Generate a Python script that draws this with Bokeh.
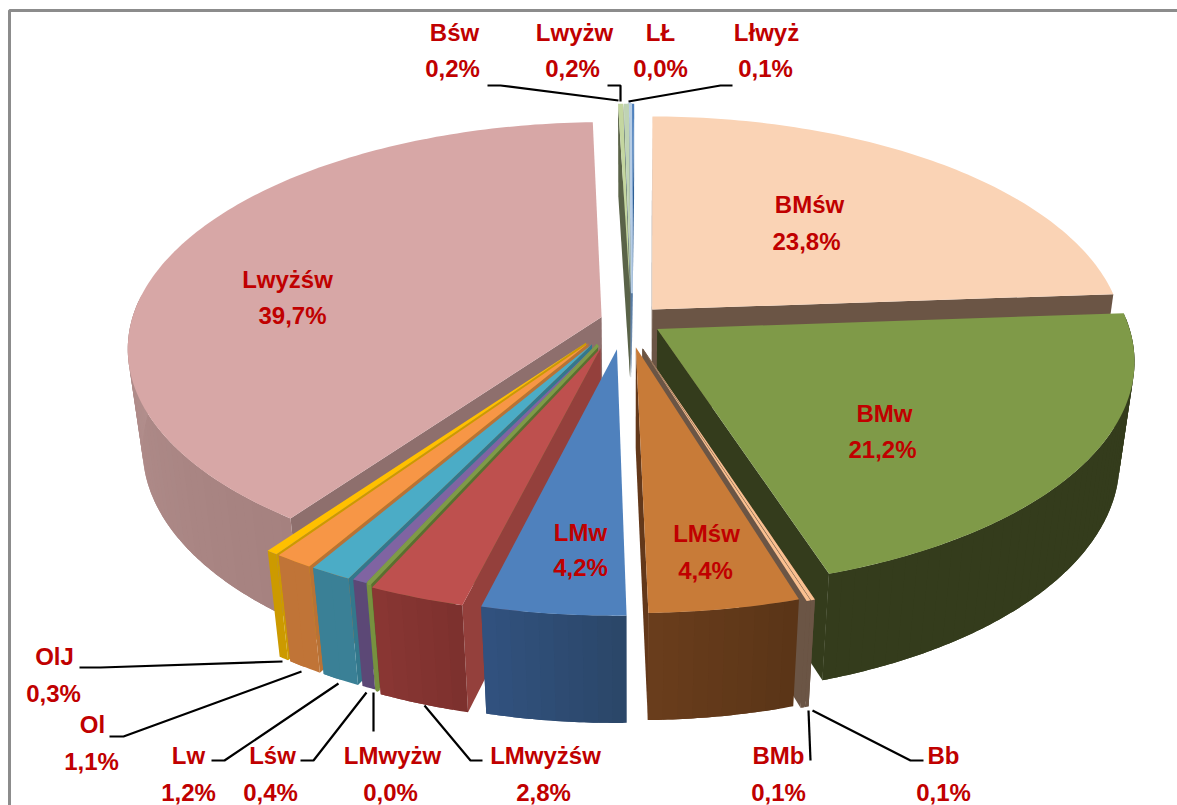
import math
from bokeh.plotting import figure
from bokeh.models import Range1d, ColumnDataSource
from bokeh.core.properties import value
from bokeh.embed import file_html
from bokeh.resources import INLINE

# ---- data (clockwise from the top of the pie) ----
names = ["Bśw", "Lwyżw", "LŁ", "Lłwyż", "BMśw", "BMw", "Bb", "BMb", "LMśw", "LMw",
         "LMwyżśw", "LMwyżw", "Lśw", "Lw", "Ol", "OlJ", "Lwyżśw"]
shares = [0.2, 0.2, 0.04, 0.14, 23.8, 21.15, 0.12, 0.12, 4.44, 4.24, 2.84, 0.04, 0.44, 1.24, 1.14, 0.34, 39.66]
labels = ["0,2%", "0,2%", "0,0%", "0,1%", "23,8%", "21,2%", "0,1%", "0,1%", "4,4%", "4,2%",
          "2,8%", "0,0%", "0,4%", "1,2%", "1,1%", "0,3%", "39,7%"]

# ---- styles ----
top_col = ["#C4D6A0", "#BFD3B4", "#B7CDE5", "#4F81BD", "#FAD3B5", "#7F9A48", "#FAC090", "#FAC090",
           "#C87B38", "#4F81BD", "#BE504E", "#7F9A48", "#8064A2", "#4BACC6", "#F79646", "#FFC000", "#D7A7A6"]
face_col = ["#5A6348", "#5F7488", "#3F5F86", "#2F5F94", "#6B5545", "#343C1C", "#6B5545", "#6B5545",
            "#63381A", "#2E4A70", "#94403C", "#5A7030", "#5C4876", "#33788C", "#B87236", "#CC9A00", "#8E6F6D"]
wall_a = ["#5A6348", "#5F7488", "#3F5F86", "#2F5F94", "#6B5545", "#343C1C", "#6B5545", "#6B5545",
          "#5A3517", "#2B4668", "#7C302E", "#77913F", "#5C4876", "#3A8096", "#C07437", "#CC9A00", "#A5817F"]
wall_b = ["#5A6348", "#5F7488", "#3F5F86", "#2F5F94", "#6B5545", "#343C1C", "#6B5545", "#6B5545",
          "#6A3D1C", "#31527F", "#8A3733", "#77913F", "#5C4876", "#3A8096", "#C07437", "#CC9A00", "#C5A3A1"]
explode = [0.125, 0.125, 0.125, 0.125, 0.068, 0.068, 0.13, 0.13, 0.12, 0.128, 0.13, 0.12, 0.12, 0.12, 0.12, 0.12, 0.055]
nudge = [0.002, 0.002, 0.002, 0.002, 0, 0, -0.014, -0.014, -0.008, -0.014, -0.02, -0.019, -0.021, -0.024, -0.024, -0.024, -0.009]

# ---- projection of the 3D disc onto the page ----
CX, CY, RX, RY, HT, PERSP, TAPER = 630.0, 320.0, 470.0, 222.0, 103.0, 0.135, 0.03
START = -1.7


def project(u, v, z):
    w = 1.0 / (1.0 - PERSP * v + TAPER * z)
    return CX + RX * u * w, CY + RY * v * w + HT * z * w


def mix(a, b, t):
    ca = [int(a[i:i + 2], 16) for i in (1, 3, 5)]
    cb = [int(b[i:i + 2], 16) for i in (1, 3, 5)]
    return "#%02x%02x%02x" % tuple(round(x + (y - x) * t) for x, y in zip(ca, cb))


def area(pts):
    return sum(pts[j][0] * pts[(j + 1) % len(pts)][1] - pts[(j + 1) % len(pts)][0] * pts[j][1]
               for j in range(len(pts)))


total = sum(shares)
slices = []
acc = START
for i, s in enumerate(shares):
    sweep = s / total * 360.0
    slices.append((i, acc, acc + sweep))
    acc += sweep
slices.sort(key=lambda q: -math.cos(math.radians((q[1] + q[2]) / 2)))

xs, ys, cols, widths = [], [], [], []


def add(pts, col, lw=0.0):
    xs.append([p[0] for p in pts])
    ys.append([p[1] for p in pts])
    cols.append(col)
    widths.append(lw)


for i, a0, a1 in slices:
    mid = math.radians((a0 + a1) / 2)
    ou, ov = explode[i] * math.sin(mid) + nudge[i], -explode[i] * math.cos(mid)
    lw = 3.5 if shares[i] < 0.05 else 0.0
    thin = (a1 - a0) < 1.0
    back_sliver = thin and math.cos(mid) > 0.9

    def pt(deg, z, radial=1.0):
        t = math.radians(deg)
        return project(ou + radial * math.sin(t), ov - radial * math.cos(t), z)

    # radial faces that look towards the viewer
    for a, sign in ((a0, -1), (a1, 1)):
        quad = [pt(a, 0, 0), pt(a, 0), pt(a, 1), pt(a, 0.85 if back_sliver else 1, 0)]
        if thin or area(quad) * sign > 0:
            add(quad, face_col[i])
    # outer wall, in overlapping strips for the shading
    n = max(1, int((a1 - a0) / 1.5))
    step = (a1 - a0) / n
    for k in range(n):
        b0 = a0 + step * k
        b1 = min(a1, b0 + 2 * step)
        if math.cos(math.radians(b0)) < 0.05 or math.cos(math.radians(b1)) < 0.05:
            m = 6
            ring = [pt(b0 + (b1 - b0) * j / m, 0) for j in range(m + 1)]
            ring += [pt(b1 - (b1 - b0) * j / m, 1) for j in range(m + 1)]
            add(ring, mix(wall_a[i], wall_b[i], (k + .5) / n), lw)
    # top
    n = max(2, int((a1 - a0) / 1.0))
    arc = [pt(a0 + (a1 - a0) * k / n, 0) for k in range(n + 1)]
    add([pt(a0, 0, 0)] + arc, top_col[i], lw)

# ---- layout of labels and leaders ----
name_x = [454, 574, 660, 766, 809, 884, 943, 778, 706, 580, 545, 392, 272, 188, 92, 54, 287]
name_y = [32, 32, 32, 32, 204, 413, 755, 755, 533, 532, 755, 755, 755, 755, 724, 656, 279]
pct_x = [452, 572, 660, 765, 806, 882, 943, 778, 705, 580, 543, 390, 270, 188, 91, 53, 292]
pct_y = [68, 68, 68, 68, 241, 449, 792, 792, 570, 567, 792, 792, 792, 792, 761, 693, 315]
leader_x = [[487, 500, 618], [607, 620, 620], [732, 720, 628], [79, 100, 282], [109, 123, 301], [211, 224, 338],
            [300, 313, 366], [373, 373], [482, 470, 424], [810, 808], [923, 910, 812]]
leader_y = [[85, 85, 100], [85, 85, 101], [85, 85, 101], [667, 667, 661], [736, 736, 671], [760, 760, 683],
            [760, 760, 692], [731, 692], [760, 760, 705], [760, 710], [760, 760, 710]]

W, H = 1177, 805
p = figure(width=W, height=H, output_backend="svg", toolbar_location=None,
           x_range=Range1d(0, W), y_range=Range1d(H, 0), min_border=0,
           x_axis_type=None, y_axis_type=None, outline_line_color=None,
           background_fill_color="white", border_fill_color="white")
p.grid.visible = False

p.multi_line([[9, 9, 1177]], [[805, 10, 10]], line_color="#8C8C8C", line_width=3)

p.patches("xs", "ys", fill_color="cols", line_color="cols", line_width="widths",
          source=ColumnDataSource(dict(xs=xs, ys=ys, cols=cols, widths=widths)))
p.multi_line(leader_x, leader_y, line_color="#000000", line_width=2.2)

font = value("Liberation Sans")
p.text(name_x, name_y, text=names, text_font=font, text_font_style="bold", text_font_size="24px",
       text_color="#C00000", text_align="center", text_baseline="middle")
p.text(pct_x, pct_y, text=labels, text_font=font, text_font_style="bold", text_font_size="24px",
       text_color="#C00000", text_align="center", text_baseline="middle")

open("out.html", "w").write(file_html(p, INLINE))
